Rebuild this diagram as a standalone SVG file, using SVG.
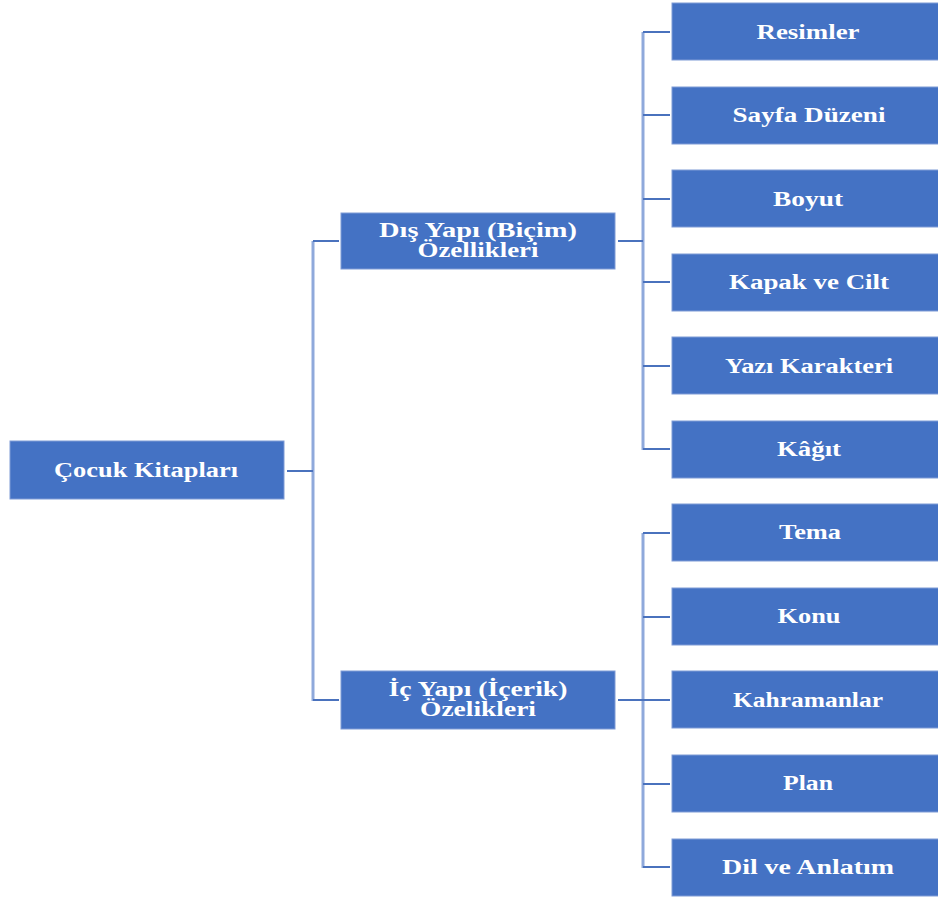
<svg xmlns="http://www.w3.org/2000/svg" width="938" height="897" viewBox="0 0 938 897">
<style>
.box{fill:#4472C4;stroke:#7f9bd6;stroke-width:1}
.t{fill:#ffffff;font-family:"Liberation Serif","Times New Roman",serif;font-weight:bold;font-size:20px;text-anchor:middle}
.v{fill:none;stroke:#8fa9db;stroke-width:3}
.h{fill:none;stroke:#4a72bd;stroke-width:2}
</style>
<rect width="938" height="897" fill="#ffffff"/>
<g id="connectors">
<line class="v" x1="313" y1="241" x2="313" y2="701"/>
<line class="h" x1="287" y1="471" x2="313" y2="471"/>
<line class="h" x1="313" y1="241" x2="339" y2="241"/>
<line class="h" x1="313" y1="700" x2="339" y2="700"/>
<line class="v" x1="643" y1="32" x2="643" y2="450"/>
<line class="h" x1="618" y1="241" x2="643" y2="241"/>
<line class="h" x1="643" y1="32" x2="670" y2="32"/>
<line class="h" x1="643" y1="115" x2="670" y2="115"/>
<line class="h" x1="643" y1="199" x2="670" y2="199"/>
<line class="h" x1="643" y1="282" x2="670" y2="282"/>
<line class="h" x1="643" y1="366" x2="670" y2="366"/>
<line class="h" x1="643" y1="449" x2="670" y2="449"/>
<line class="v" x1="643" y1="533" x2="643" y2="868"/>
<line class="h" x1="618" y1="700" x2="643" y2="700"/>
<line class="h" x1="643" y1="533" x2="670" y2="533"/>
<line class="h" x1="643" y1="617" x2="670" y2="617"/>
<line class="h" x1="643" y1="700" x2="670" y2="700"/>
<line class="h" x1="643" y1="784" x2="670" y2="784"/>
<line class="h" x1="643" y1="867" x2="670" y2="867"/>
</g>
<g id="root">
<rect class="box" x="10" y="441" width="274" height="58"/>
<text class="t" x="146" y="477" textLength="184" lengthAdjust="spacingAndGlyphs">Çocuk Kitapları</text>
</g>
<g id="dis">
<rect class="box" x="341" y="213" width="274" height="56"/>
<text class="t" x="478" y="237" textLength="198" lengthAdjust="spacingAndGlyphs">Dış Yapı (Biçim)</text>
<text class="t" x="478" y="257" textLength="121" lengthAdjust="spacingAndGlyphs">Özellikleri</text>
</g>
<g id="ic">
<rect class="box" x="341" y="671" width="274" height="58"/>
<text class="t" x="478" y="696" textLength="179" lengthAdjust="spacingAndGlyphs">İç Yapı (İçerik)</text>
<text class="t" x="478" y="716" textLength="116" lengthAdjust="spacingAndGlyphs">Özelikleri</text>
</g>
<g id="resimler">
<rect class="box" x="672" y="3" width="272" height="57"/>
<text class="t" x="808" y="39" textLength="103" lengthAdjust="spacingAndGlyphs">Resimler</text>
</g>
<g id="sayfa">
<rect class="box" x="672" y="87" width="272" height="57"/>
<text class="t" x="809" y="122" textLength="153" lengthAdjust="spacingAndGlyphs">Sayfa Düzeni</text>
</g>
<g id="boyut">
<rect class="box" x="672" y="170" width="272" height="57"/>
<text class="t" x="808" y="206" textLength="70" lengthAdjust="spacingAndGlyphs">Boyut</text>
</g>
<g id="kapak">
<rect class="box" x="672" y="254" width="272" height="57"/>
<text class="t" x="809" y="289" textLength="160" lengthAdjust="spacingAndGlyphs">Kapak ve Cilt</text>
</g>
<g id="yazi">
<rect class="box" x="672" y="337" width="272" height="57"/>
<text class="t" x="809" y="373" textLength="168" lengthAdjust="spacingAndGlyphs">Yazı Karakteri</text>
</g>
<g id="kagit">
<rect class="box" x="672" y="421" width="272" height="57"/>
<text class="t" x="809" y="456" textLength="64" lengthAdjust="spacingAndGlyphs">Kâğıt</text>
</g>
<g id="tema">
<rect class="box" x="672" y="504" width="272" height="57"/>
<text class="t" x="810" y="539" textLength="62" lengthAdjust="spacingAndGlyphs">Tema</text>
</g>
<g id="konu">
<rect class="box" x="672" y="588" width="272" height="57"/>
<text class="t" x="809" y="623" textLength="63" lengthAdjust="spacingAndGlyphs">Konu</text>
</g>
<g id="kahramanlar">
<rect class="box" x="672" y="671" width="272" height="57"/>
<text class="t" x="808" y="707" textLength="150" lengthAdjust="spacingAndGlyphs">Kahramanlar</text>
</g>
<g id="plan">
<rect class="box" x="672" y="755" width="272" height="57"/>
<text class="t" x="808" y="790" textLength="50" lengthAdjust="spacingAndGlyphs">Plan</text>
</g>
<g id="dil">
<rect class="box" x="672" y="839" width="272" height="57"/>
<text class="t" x="808" y="874" textLength="172" lengthAdjust="spacingAndGlyphs">Dil ve Anlatım</text>
</g>
</svg>
